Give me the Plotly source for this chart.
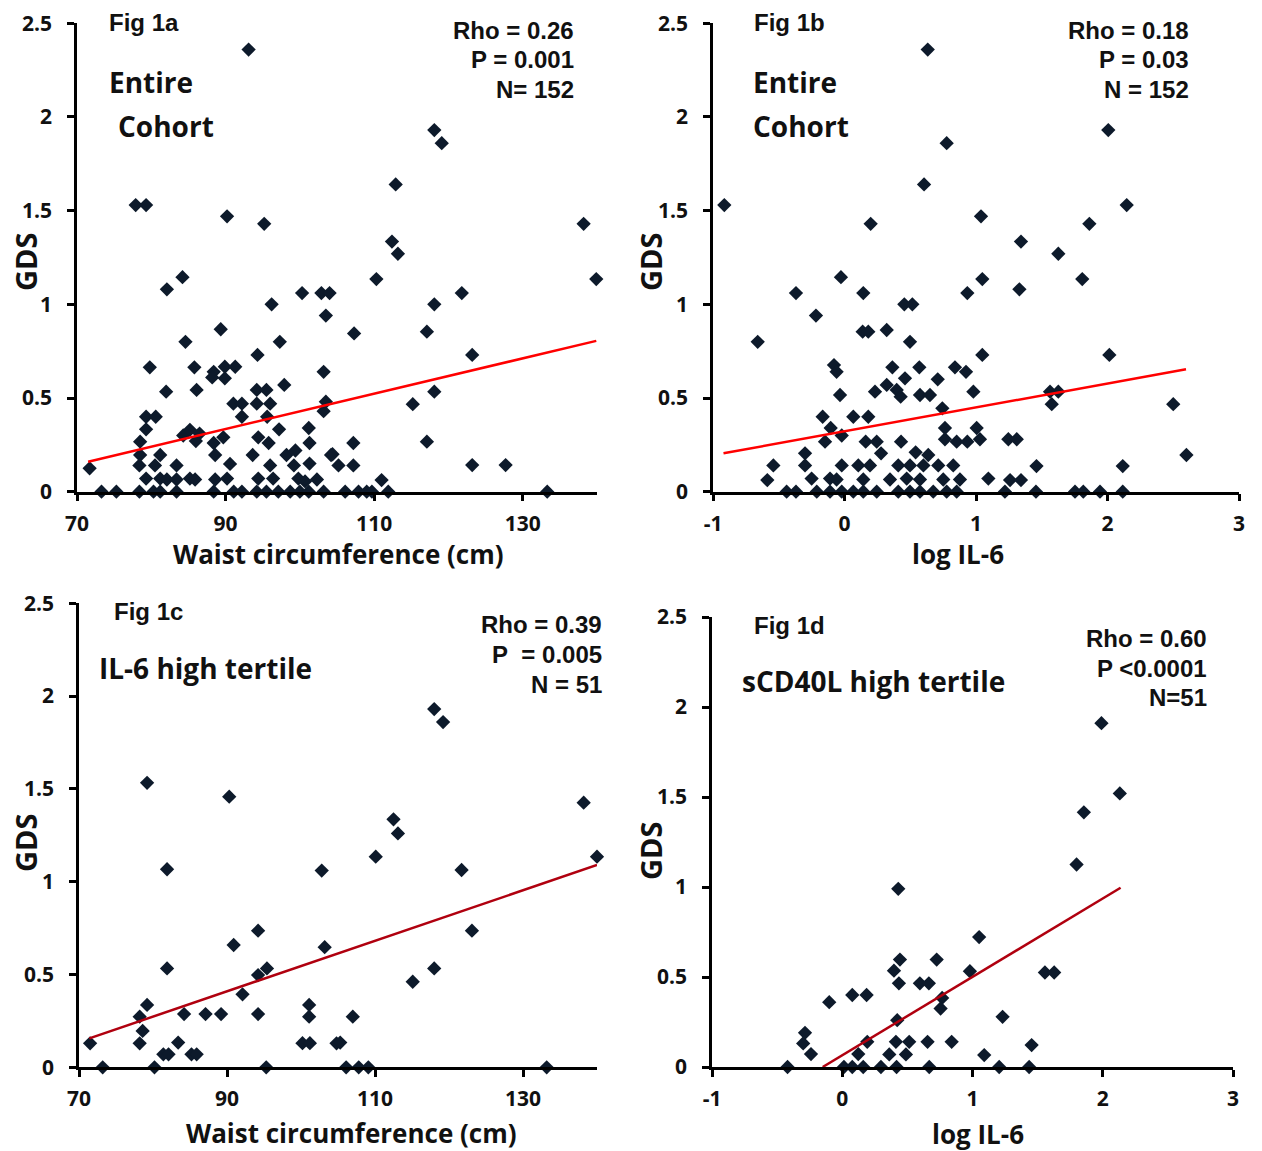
import plotly.graph_objects as go

W, H = 1262, 1151

# ---------------- data ----------------
# Fig 1a: waist circumference vs GDS (entire cohort)
a_x = [93.1, 77.9, 79.3, 90.2, 95.2, 84.2, 82.1, 100.3, 102.9, 104.0, 96.2, 103.5, 89.35, 84.6, 97.3, 94.3,
       79.8, 85.8, 88.4, 88.2, 89.9, 91.3, 89.9, 103.2, 82.0, 86.1, 97.9, 94.2, 95.5, 91.05, 92.2, 94.2, 96.0,
       103.5, 103.2, 92.2, 79.3, 80.6, 95.6, 79.3, 97.2, 101.2, 78.5, 84.3, 85.2, 86.5, 86.0, 88.4, 89.7, 95.8,
       101.3, 94.4, 78.5, 81.2, 88.6, 93.65, 98.2, 99.4, 104.2, 71.7, 78.4, 80.5, 83.4, 90.6, 96.0, 99.2, 101.3,
       79.3, 81.2, 82.1, 83.4, 85.2, 85.9, 88.6, 90.2, 94.4, 96.4, 99.8, 100.7, 102.3,
       73.3, 75.3, 78.4, 80.3, 81.2, 83.4, 88.4, 91.1, 92.2, 94.2, 95.5, 97.1, 98.7, 100.0, 101.2, 103.2,
       118.1, 119.1, 112.9, 138.2, 112.4, 113.2, 110.3, 139.9, 121.8, 118.1, 107.3, 117.1, 123.2, 118.1, 115.2,
       107.2, 104.4, 105.2, 107.2, 117.1, 123.2, 127.7, 111.0,
       106.1, 107.9, 109.0, 109.7, 111.9, 133.3]
a_y = [2.36, 1.53, 1.53, 1.47, 1.43, 1.145, 1.08, 1.06, 1.06, 1.06, 1.00, 0.94, 0.867, 0.80, 0.80, 0.73,
       0.664, 0.664, 0.64, 0.61, 0.667, 0.667, 0.605, 0.64, 0.534, 0.543, 0.57, 0.543, 0.543, 0.47, 0.47, 0.47, 0.47,
       0.48, 0.43, 0.40, 0.40, 0.40, 0.40, 0.333, 0.333, 0.34, 0.267, 0.30, 0.33, 0.31, 0.27, 0.26, 0.29, 0.26,
       0.26, 0.29, 0.196, 0.196, 0.196, 0.196, 0.196, 0.22, 0.196, 0.125, 0.14, 0.14, 0.14, 0.148, 0.14, 0.14, 0.15,
       0.07, 0.07, 0.065, 0.065, 0.07, 0.065, 0.065, 0.07, 0.07, 0.07, 0.07, 0.055, 0.065,
       0, 0, 0, 0, 0, 0, 0, 0, 0, 0, 0, 0, 0, 0, 0, 0,
       1.93, 1.86, 1.64, 1.43, 1.335, 1.27, 1.135, 1.135, 1.06, 1.0, 0.845, 0.854, 0.73, 0.534, 0.467,
       0.26, 0.2, 0.14, 0.14, 0.267, 0.142, 0.142, 0.062,
       0, 0, 0, 0, 0, 0]
a_fit_x = [71.5, 139.9]
a_fit_y = [0.16, 0.805]

# Fig 1b: log IL-6 vs GDS (entire cohort)
b_x = [0.633, 0.777, 0.605, -0.914, 0.199, -0.027, -0.369, 0.143, 0.934, -0.217, 0.455, 0.516, 0.138, 0.181,
       0.321, -0.66, 0.498, -0.08, -0.06, 0.364, 0.569, 0.84, 0.924, 0.46, 0.709, 0.232, 0.321, 0.397, -0.034,
       0.427, 0.574, 0.65, 0.744, -0.166, 0.067, 0.181, -0.105, -0.021, 0.764, -0.148, 0.161, 0.245, 0.43, 0.764,
       0.853, 0.934, 0.278, -0.30, 0.541, 0.637, -0.541, -0.30, -0.021, 0.105, 0.194, 0.409, 0.498, 0.6, 0.713,
       0.827, -0.587, -0.25, -0.11, -0.06, 0.143, 0.346, 0.473, 0.574, 0.751, 0.878,
       -0.44, -0.369, -0.211, -0.11, -0.021, 0.067, 0.143, 0.245, 0.409, 0.498, 0.574, 0.675, 0.777, 0.853,
       2.006, 2.146, 1.038, 1.862, 1.342, 1.626, 1.048, 1.808, 1.33, 1.048, 2.014, 0.98, 1.563, 1.626, 1.576,
       2.50, 1.005, 1.03, 1.246, 1.31, 2.60, 1.46, 2.116, 1.094, 1.259, 1.342,
       1.22, 1.456, 1.753, 1.816, 1.943, 2.116]
b_y = [2.36, 1.86, 1.64, 1.53, 1.43, 1.145, 1.06, 1.06, 1.06, 0.94, 1.0, 1.0, 0.854, 0.854,
       0.863, 0.80, 0.80, 0.676, 0.64, 0.664, 0.664, 0.664, 0.64, 0.605, 0.60, 0.534, 0.57, 0.543, 0.516,
       0.507, 0.516, 0.516, 0.445, 0.40, 0.40, 0.40, 0.34, 0.30, 0.34, 0.267, 0.267, 0.267, 0.267, 0.28,
       0.267, 0.267, 0.205, 0.205, 0.21, 0.196, 0.14, 0.14, 0.14, 0.14, 0.14, 0.14, 0.14, 0.14, 0.14,
       0.14, 0.062, 0.07, 0.07, 0.065, 0.065, 0.065, 0.07, 0.065, 0.065, 0.065,
       0, 0, 0, 0, 0, 0, 0, 0, 0, 0, 0, 0, 0, 0,
       1.93, 1.53, 1.47, 1.43, 1.335, 1.27, 1.135, 1.135, 1.08, 0.73, 0.73, 0.534, 0.534, 0.534, 0.467,
       0.467, 0.34, 0.28, 0.28, 0.28, 0.196, 0.137, 0.137, 0.07, 0.062, 0.062,
       0, 0, 0, 0, 0, 0]
b_fit_x = [-0.92, 2.597]
b_fit_y = [0.205, 0.653]

# Fig 1c: waist circumference vs GDS (IL-6 high tertile)
c_x = [79.2, 90.3, 81.9, 102.8, 94.2, 90.9, 103.2, 81.9, 95.4, 94.2, 92.1, 79.2, 78.2, 78.6, 84.2, 87.1,
       89.2, 94.2, 101.1, 101.1, 71.5, 78.2, 83.4, 100.2, 101.2, 104.8, 81.4, 82.1, 85.2, 85.9,
       73.2, 80.2, 95.3,
       118.0, 119.2, 138.2, 112.5, 113.1, 110.1, 140.0, 121.7, 123.1, 118.0, 115.1, 107.0, 105.3,
       106.1, 107.8, 109.1, 133.2]
c_y = [1.533, 1.458, 1.067, 1.06, 0.736, 0.659, 0.647, 0.533, 0.533, 0.497, 0.393, 0.336, 0.273, 0.196, 0.287, 0.287,
       0.287, 0.287, 0.336, 0.273, 0.129, 0.129, 0.133, 0.13, 0.13, 0.129, 0.07, 0.07, 0.07, 0.07,
       0, 0, 0,
       1.93, 1.86, 1.426, 1.336, 1.26, 1.135, 1.135, 1.063, 0.736, 0.533, 0.461, 0.273, 0.133,
       0, 0, 0, 0]
c_fit_x = [71.4, 140.0]
c_fit_y = [0.156, 1.09]

# Fig 1d: log IL-6 vs GDS (sCD40L high tertile)
d_x = [0.43, 0.443, 0.725, 0.397, 0.435, 0.596, 0.665, 0.077, 0.187, -0.1, 0.767, 0.755, 0.422,
       -0.286, -0.30, -0.24, 0.192, 0.123, 0.412, 0.514, 0.655, 0.84, 0.361, 0.489,
       -0.42, 0.013, 0.077, 0.161, 0.297, 0.417, 0.668,
       1.99, 2.131, 1.855, 1.799, 1.051, 0.98, 1.556, 1.627, 1.231, 1.454, 1.09,
       1.205, 1.435]
d_y = [0.99, 0.597, 0.597, 0.535, 0.465, 0.465, 0.465, 0.40, 0.40, 0.36, 0.384, 0.325, 0.26,
       0.19, 0.131, 0.072, 0.14, 0.072, 0.14, 0.14, 0.14, 0.14, 0.07, 0.07,
       0, 0, 0, 0, 0, 0, 0,
       1.91, 1.52, 1.415, 1.125, 0.722, 0.532, 0.525, 0.525, 0.279, 0.122, 0.066,
       0, 0]
d_fit_x = [-0.15, 2.137]
d_fit_y = [0.0, 0.996]

y_ticks = [0, 0.5, 1, 1.5, 2, 2.5]
y_ticklabels = ["0", "0.5", "1", "1.5", "2", "2.5"]
waist_ticks = [70, 90, 110, 130]
waist_ticklabels = ["70", "90", "110", "130"]
il6_ticks = [-1, 0, 1, 2, 3]
il6_ticklabels = ["-1", "0", "1", "2", "3"]

# ---------------- layout helpers ----------------
def px(x):
    return x / W

def py(y):
    return 1 - y / H

BOLD_SANS = "Open Sans"
ARIAL = "Liberation Sans, Arial"
MARK = dict(symbol="diamond", size=11, color="#0d1a2b", line=dict(width=0))

panels = [
    (a_x, a_y, a_fit_x, a_fit_y, "#ff0000", [70, 140], waist_ticks, waist_ticklabels, (77, 597), (23.3, 491.7)),
    (b_x, b_y, b_fit_x, b_fit_y, "#ff0000", [-1, 3], il6_ticks, il6_ticklabels, (713, 1239), (23.3, 491.7)),
    (c_x, c_y, c_fit_x, c_fit_y, "#b0000f", [70, 140], waist_ticks, waist_ticklabels, (79, 597), (603.3, 1067.3)),
    (d_x, d_y, d_fit_x, d_fit_y, "#b0000f", [-1, 3], il6_ticks, il6_ticklabels, (712, 1233), (617, 1067)),
]

fig = go.Figure()
layout = {}
for i, (xs, ys, fx, fy, fc, xr, xt, xtl, xd, yd) in enumerate(panels, start=1):
    sfx = "" if i == 1 else str(i)
    fig.add_trace(go.Scatter(x=xs, y=ys, mode="markers", marker=MARK, cliponaxis=False,
                             xaxis="x" + sfx, yaxis="y" + sfx, showlegend=False, hoverinfo="x+y"))
    fig.add_trace(go.Scatter(x=fx, y=fy, mode="lines", line=dict(color=fc, width=2.5), cliponaxis=False,
                             xaxis="x" + sfx, yaxis="y" + sfx, showlegend=False, hoverinfo="skip"))
    common = dict(showline=True, linecolor="black", linewidth=2.5, ticks="outside", ticklen=7,
                  tickwidth=2.5, tickcolor="black", showgrid=False, zeroline=False, automargin=False,
                  tickfont=dict(family=BOLD_SANS, size=21, color="#111111", weight="bold"))
    layout["xaxis" + sfx] = dict(common, domain=[px(xd[0]), px(xd[1])], range=xr, tickvals=xt,
                                 ticktext=xtl, anchor="y" + sfx, ticklabelstandoff=4)
    layout["yaxis" + sfx] = dict(common, domain=[py(yd[1]), py(yd[0])], range=[0, 2.5],
                                 tickvals=y_ticks, ticktext=y_ticklabels, anchor="x" + sfx,
                                 ticklabelstandoff=11)

fig.update_layout(**layout)

ann = []

def text(x, y, s, size, family, xanchor="left", angle=0):
    ann.append(dict(x=px(x), y=py(y), xref="paper", yref="paper", text=s, showarrow=False,
                    xanchor=xanchor, yanchor="middle", textangle=angle,
                    font=dict(family=family, size=size, color="#111111", weight="bold")))

# panel labels
text(107, 22, "Fig 1a", 24, ARIAL)
text(752, 22, "Fig 1b", 24, ARIAL)
text(112, 611, "Fig 1c", 24, ARIAL)
text(752, 625, "Fig 1d", 24, ARIAL)

# subgroup labels
text(107, 82, "Entire", 28, BOLD_SANS)
text(116, 126, "Cohort", 28, BOLD_SANS)
text(751, 82, "Entire", 28, BOLD_SANS)
text(751, 126, "Cohort", 28, BOLD_SANS)
text(97, 668, "IL-6 high tertile", 28, BOLD_SANS)
text(740, 681, "sCD40L high tertile", 28, BOLD_SANS)

# statistics
stats = [
    (576, [30, 60, 89], ["Rho = 0.26", "P = 0.001", "N= 152"]),
    (1191, [30, 60, 89], ["Rho = 0.18", "P = 0.03", "N = 152"]),
    (604, [624, 654, 684], ["Rho = 0.39", "P  = 0.005", "N = 51"]),
    (1209, [638, 668, 697], ["Rho = 0.60", "P <0.0001", "N=51"]),
]
for xr_, ys_, lines in stats:
    for yy, s in zip(ys_, lines):
        text(xr_, yy, s.replace("  ", "&nbsp; "), 24, ARIAL, xanchor="right")

# axis titles
text(338, 554, "Waist circumference (cm)", 26, BOLD_SANS, xanchor="center")
text(958, 554, "log IL-6", 26, BOLD_SANS, xanchor="center")
text(351, 1133, "Waist circumference (cm)", 26, BOLD_SANS, xanchor="center")
text(978, 1134, "log IL-6", 26, BOLD_SANS, xanchor="center")
for gx, gy in [(25, 262), (650, 262), (25, 843), (650, 851)]:
    text(gx, gy, "GDS", 29, BOLD_SANS, xanchor="center", angle=-90)

fig.update_layout(annotations=ann, width=W, height=H, margin=dict(l=0, r=0, t=0, b=0, pad=0),
                  paper_bgcolor="white", plot_bgcolor="white", showlegend=False)

fig.write_html("out.html", config={"displayModeBar": False},
               post_script="document.body.style.margin='0px';document.body.style.overflow='hidden';")
